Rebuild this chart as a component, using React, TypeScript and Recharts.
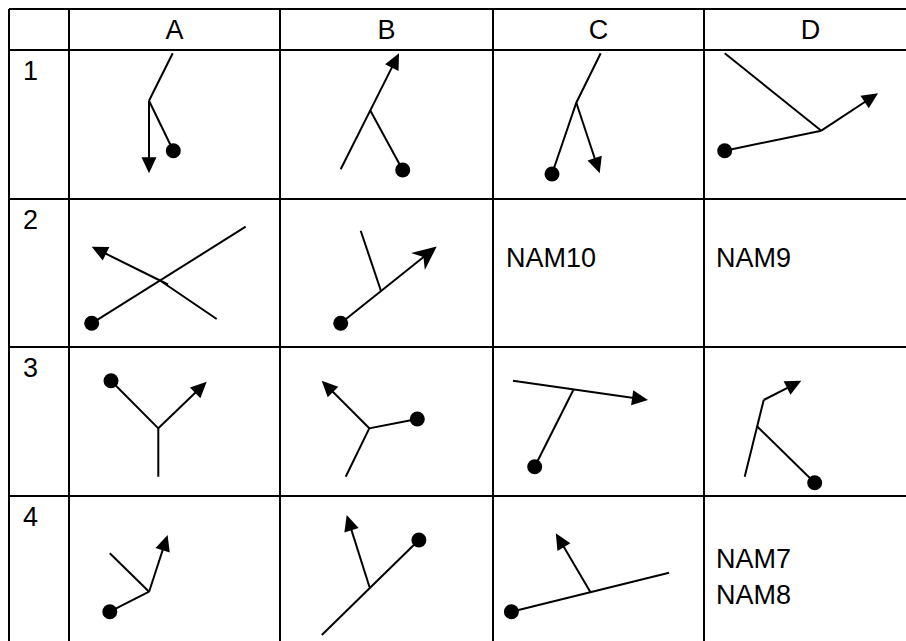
import React from 'react';
import { ScatterChart, XAxis, YAxis, Scatter, ReferenceLine } from 'recharts';

type Pt = [number, number];

// Table layout (in drawing units)
const colEdges = [9, 69, 280, 493, 704, 917];
const rowEdges = [9, 50, 199, 347, 496, 645];
const colLabels = ['A', 'B', 'C', 'D'];
const rowLabels = ['1', '2', '3', '4'];

// Plain line strokes (polylines) per cell
const strokes: Pt[][] = [
  // 1A
  [[172.7, 53.3], [149, 100.7]],
  [[149, 100.7], [173.3, 150.7]],
  // 1B
  [[370, 110], [402.7, 170]],
  // 1C
  [[600.7, 53.3], [576.3, 102.7], [552, 174]],
  // 1D
  [[724.7, 53.3], [821.3, 130.7]],
  [[821.3, 130.7], [724.7, 150.7]],
  // 2A
  [[91.7, 323.3], [245.7, 226.7]],
  [[168, 284.5], [160, 280.5], [216.7, 319]],
  // 2B
  [[381, 291], [360.7, 230.7]],
  // 3A
  [[111, 380.7], [158.3, 428.3], [158.3, 476.7]],
  // 3B
  [[417.3, 419], [369.3, 428.3], [345.7, 476.7]],
  // 3C
  [[573.7, 389.3], [534.7, 466.7]],
  // 3D
  [[744.7, 476.7], [763.7, 400]],
  [[757.5, 426.7], [814.7, 482.7]],
  // 4A
  [[109.8, 611.7], [149.1, 591.7]],
  [[149.1, 591.7], [109.8, 553.3]],
  // 4B
  [[418.9, 540], [321.8, 635]],
  // 4C
  [[511.4, 611.7], [669.1, 572.7]],
];

// Arrows: shaft start -> tip
const arrowFrom: Pt[] = [
  [149, 100.7], [340.7, 169.3], [576.3, 102.7], [821.3, 130.7],
  [160, 280.5], [340.7, 323.3],
  [158.3, 428.3], [369.3, 428.3], [513, 380.7], [763.7, 400],
  [149.1, 591.7], [369.5, 587], [590.5, 592.2],
];
const arrowTip: Pt[] = [
  [149, 173.3], [399, 53.3], [599.7, 173.3], [878, 93.3],
  [91.7, 246.7], [436.7, 246.5],
  [206.7, 381.7], [321.7, 380.7], [648, 400], [801.3, 380.7],
  [167.6, 535], [346.7, 515], [555.8, 533.3],
];
const arrowKind = [
  'tri', 'tri', 'tri', 'tri',
  'tri', 'stealth',
  'tri', 'tri', 'tri', 'tri',
  'tri', 'tri', 'tri',
];

// Filled round ends
const dots: Pt[] = [
  [173.3, 150.7], [402.7, 170], [552, 174], [724.7, 150.7],
  [91.7, 323.3], [340.7, 323.3],
  [111, 380.7], [417.3, 419], [534.7, 466.7], [814.7, 482.7],
  [109.8, 611.7], [418.9, 540], [511.4, 611.7],
];

// Cell text notes
const noteText = ['NAM10', 'NAM9', 'NAM7', 'NAM8'];
const notePos: Pt[] = [[506, 267], [716, 267], [716, 568], [716, 604]];

const W = 906;
const H = 641;
const FONT = "'Liberation Sans', Arial, sans-serif";
const INK = '#000';

const headerData = colLabels.map((t, i) => ({
  x: (colEdges[i + 1] + colEdges[i + 2]) / 2,
  y: 39,
  label: t,
  anchor: 'middle',
}));
const rowData = rowLabels.map((t, i) => ({
  x: 23,
  y: rowEdges[i + 1] + 30,
  label: t,
  anchor: 'start',
}));
const noteData = noteText.map((t, i) => ({ x: notePos[i][0], y: notePos[i][1], label: t, anchor: 'start' }));

const arrowData = arrowTip.map((t, i) => ({
  x: t[0],
  y: t[1],
  fx: arrowFrom[i][0],
  fy: arrowFrom[i][1],
  kind: arrowKind[i],
}));

const shaftData = arrowData.map((a) => {
  const dx = a.x - a.fx;
  const dy = a.y - a.fy;
  const len = Math.hypot(dx, dy);
  const back = a.kind === 'stealth' ? 16 : 9;
  return [
    { x: a.fx, y: a.fy },
    { x: a.x - (dx / len) * back, y: a.y - (dy / len) * back },
  ];
});

const strokeData = strokes.map((s) => s.map((p) => ({ x: p[0], y: p[1] })));
const dotData = dots.map((p) => ({ x: p[0], y: p[1] }));

const Empty = () => <g />;

const TextShape = (props: any) => {
  const { cx, cy, payload } = props;
  return (
    <text
      x={cx}
      y={cy}
      textAnchor={payload.anchor}
      fontFamily={FONT}
      fontSize={payload.size || 27}
      fill={INK}
    >
      {payload.label}
    </text>
  );
};

const NoteShape = (props: any) => <TextShape {...props} payload={{ ...props.payload, size: 27 }} />;

const DotShape = (props: any) => <circle cx={props.cx} cy={props.cy} r={7.5} fill={INK} />;

const ArrowShape = (props: any) => {
  const { cx, cy, payload } = props;
  const a = Math.atan2(payload.y - payload.fy, payload.x - payload.fx);
  const c = Math.cos(a);
  const s = Math.sin(a);
  const local: Pt[] =
    payload.kind === 'stealth'
      ? [[0, 0], [-24, -11], [-17, 0], [-24, 11]]
      : [[0, 0], [-16, -7.5], [-16, 7.5]];
  const pts = local.map(([dx, dy]) => `${cx + dx * c - dy * s},${cy + dx * s + dy * c}`).join(' ');
  return <polygon points={pts} fill={INK} />;
};

const lineStyle = { stroke: INK, strokeWidth: 2 };

export default function App() {
  return (
    <div style={{ position: 'absolute', left: 0, top: 0, width: W, height: H, background: '#fff' }}>
      <ScatterChart width={W} height={H} margin={{ top: 0, right: 0, bottom: 0, left: 0 }}>
        <XAxis type="number" dataKey="x" domain={[0, W]} allowDataOverflow hide />
        <YAxis type="number" dataKey="y" domain={[0, H]} allowDataOverflow reversed hide />

        {colEdges.map((x, i) => (
          <ReferenceLine
            key={'v' + i}
            segment={[{ x, y: rowEdges[0] }, { x, y: H }]}
            stroke={INK}
            strokeWidth={2}
            ifOverflow="visible"
          />
        ))}
        {rowEdges.map((y, i) => (
          <ReferenceLine
            key={'h' + i}
            segment={[{ x: colEdges[0], y }, { x: W, y }]}
            stroke={INK}
            strokeWidth={2}
            ifOverflow="visible"
          />
        ))}

        {strokeData.map((d, i) => (
          <Scatter key={'s' + i} data={d} line={lineStyle} shape={Empty} isAnimationActive={false} />
        ))}
        {shaftData.map((d, i) => (
          <Scatter key={'a' + i} data={d} line={lineStyle} shape={Empty} isAnimationActive={false} />
        ))}
        <Scatter data={arrowData} shape={ArrowShape} isAnimationActive={false} />
        <Scatter data={dotData} shape={DotShape} isAnimationActive={false} />
        <Scatter data={headerData} shape={TextShape} isAnimationActive={false} />
        <Scatter data={rowData} shape={TextShape} isAnimationActive={false} />
        <Scatter data={noteData} shape={NoteShape} isAnimationActive={false} />
      </ScatterChart>
    </div>
  );
}
